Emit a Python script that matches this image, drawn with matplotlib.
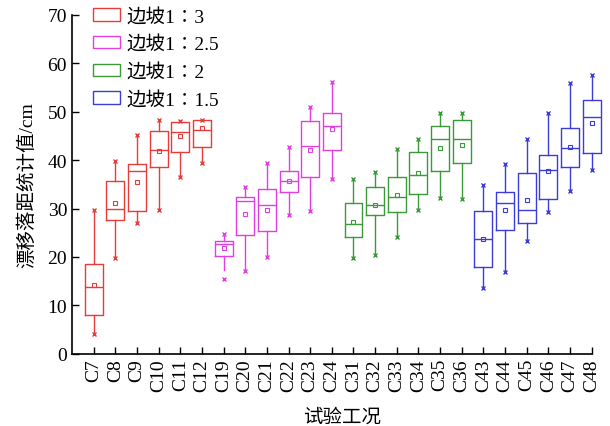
import matplotlib
matplotlib.use("Agg")
import matplotlib.pyplot as plt
from matplotlib.patches import Patch

plt.rcParams["font.family"] = ["Liberation Serif", "Noto Sans CJK SC", "DejaVu Sans"]

# test cases, grouped by slope
cases = ["C7", "C8", "C9", "C10", "C11", "C12",
         "C19", "C20", "C21", "C22", "C23", "C24",
         "C31", "C32", "C33", "C34", "C35", "C36",
         "C43", "C44", "C45", "C46", "C47", "C48"]
group_labels = ["边坡1∶3", "边坡1∶2.5", "边坡1∶2", "边坡1∶1.5"]
group_colors = ["#e63c3c", "#e040e0", "#3a9a3a", "#3c3cd8"]
group_size = 6

# box statistics (cm)
whislo = [4.0, 19.7, 27.0, 29.8, 36.6, 39.5,
          17.3, 17.1, 19.9, 28.7, 29.5, 36.2,
          19.7, 20.5, 24.2, 29.6, 32.2, 31.9,
          13.5, 16.8, 23.2, 29.3, 33.6, 38.0]
q1 = [8.0, 27.6, 29.4, 38.6, 41.7, 42.8,
      20.1, 24.5, 25.3, 33.5, 36.6, 42.0,
      24.2, 28.7, 29.3, 33.1, 37.7, 39.3,
      17.9, 25.5, 27.1, 31.9, 38.6, 41.5]
med = [13.9, 30.0, 37.7, 42.1, 45.7, 46.3,
       22.6, 31.6, 30.8, 35.7, 42.9, 47.1,
       26.8, 30.8, 32.4, 37.0, 44.4, 44.3,
       23.7, 31.1, 29.7, 38.0, 42.5, 49.0]
q3 = [18.5, 35.7, 39.2, 46.0, 47.9, 48.2,
      23.3, 32.4, 34.0, 37.8, 48.0, 49.8,
      31.2, 34.4, 36.6, 41.7, 47.0, 48.2,
      29.5, 33.5, 37.4, 41.0, 46.7, 52.5]
whishi = [29.8, 39.9, 45.2, 48.2, 48.0, 48.2,
          24.7, 34.4, 39.3, 42.7, 50.9, 56.1,
          36.0, 37.6, 42.3, 44.4, 49.7, 49.7,
          34.8, 39.1, 44.3, 49.8, 56.0, 57.6]
means = [14.3, 31.1, 35.4, 41.8, 45.0, 46.6,
         21.9, 28.9, 29.7, 35.7, 42.0, 46.4,
         27.2, 30.8, 32.8, 37.4, 42.4, 43.1,
         23.7, 29.7, 31.8, 37.7, 42.8, 47.6]
mins = [4.0, 19.7, 27.0, 29.8, 36.6, 39.5,
        15.4, 17.1, 19.9, 28.7, 29.5, 36.2,
        19.7, 20.5, 24.2, 29.6, 32.2, 31.9,
        13.5, 16.8, 23.2, 29.3, 33.6, 38.0]
maxs = whishi

fig = plt.figure(figsize=(6.1, 4.27), dpi=100)
ax = fig.add_axes([0.118, 0.169, 0.852, 0.794])

for i, name in enumerate(cases):
    color = group_colors[i // group_size]
    stats = [{"label": name, "whislo": whislo[i], "q1": q1[i], "med": med[i],
              "q3": q3[i], "whishi": whishi[i], "mean": means[i], "fliers": []}]
    parts = ax.bxp(stats, positions=[i], widths=0.83, showcaps=False, showmeans=True,
                   showfliers=False, manage_ticks=False,
                   boxprops=dict(color=color, lw=1.0),
                   medianprops=dict(color=color, lw=1.0),
                   whiskerprops=dict(color=color, lw=1.0),
                   meanprops=dict(marker="s", markersize=3.2, markerfacecolor="none",
                                  markeredgecolor=color, markeredgewidth=0.8))
    for arts in parts.values():
        for a in arts:
            a.set_clip_on(False)
    ax.plot([i, i], [mins[i], maxs[i]], ls="none", marker="x", ms=3.5,
            mew=1.0, color=color, clip_on=False)

ax.set_xlim(-1.0, len(cases) - 1)
ax.set_ylim(0, 70)
ax.set_xticks(range(len(cases)))
ax.set_xticklabels(cases, rotation=90, fontsize=14)
ax.set_yticks(range(0, 71, 10))
ax.tick_params(axis="y", labelsize=14, direction="in", length=5, width=1)
ax.tick_params(axis="x", direction="in", length=5, width=1, pad=3)
ax.spines["top"].set_visible(False)
ax.spines["right"].set_visible(False)
for s in ("left", "bottom"):
    ax.spines[s].set_linewidth(1.2)

ax.set_xlabel("试验工况", fontsize=14)
ax.xaxis.set_label_coords(0.52, -0.16)
ax.set_ylabel("漂移落距统计值/cm", fontsize=14, labelpad=8)

handles = [Patch(facecolor="none", edgecolor=c, lw=1.0) for c in group_colors]
ax.legend(handles, group_labels, loc="upper left", bbox_to_anchor=(0.025, 1.045),
          frameon=False, fontsize=14, handlelength=1.4, handleheight=0.6,
          labelspacing=0.5, handletextpad=0.35, borderaxespad=0)

fig.savefig("out.png", dpi=100)
